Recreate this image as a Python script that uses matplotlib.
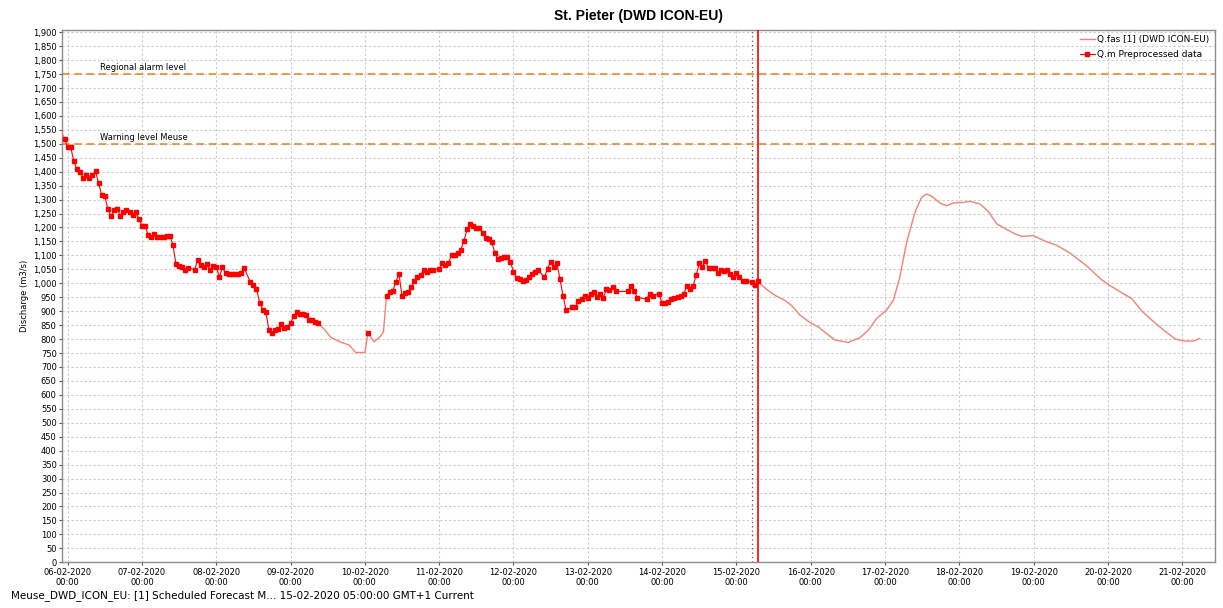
import matplotlib
matplotlib.use("Agg")
import matplotlib.pyplot as plt
import numpy as np
from matplotlib.ticker import FuncFormatter, MultipleLocator

nan = np.nan

# hours since 06-02-2020 00:00
obs_hours = [-1, 0, 1, 2, 3, 4, 5, 6, 7, 8, 9, 10, 11, 12, 13, 14, 15, 16, 17, 18, 19, 20,
             21, 22, 23, 24, 25, 26, 27, 28, 29, 30, 31, 32, 33, 34, 35, 36, 37, 38, 39, 41,
             42, 43, 44, 45, 46, 47, 48, 49, 50, 51, 52, 53, 54, 55, 56, 57, 59, 60, 61, 62,
             63, 64, 65, 66, 67, 68, 69, 70, 71, 72, 73, 74, 75, 76, 77, 78, 79, 80, 81,
             89, 97, 100,
             103, 104, 105, 106, 107, 108, 109, 110, 111, 112, 113, 114, 115, 116, 117, 118,
             120, 121, 122, 123, 124, 125, 126, 127, 128, 129, 130, 131, 132, 133, 134, 135,
             136, 137, 138, 139, 140, 141, 142, 143, 144, 145, 146, 147, 148, 149, 150, 151,
             152, 154, 155, 156, 157, 158, 159, 160, 161, 163, 164, 165, 166, 167, 168, 169,
             170, 171, 172, 173, 174, 175, 176, 177, 181, 182, 183, 184, 187, 188, 189, 191,
             192, 193, 194, 195, 196, 197, 198, 199, 200, 201, 202, 203, 204, 205, 206, 207,
             208, 209, 210, 211, 212, 213, 214, 215, 216, 217, 218, 219, 221, 222, 223]
obs_values = [1516, 1489, 1487, 1438, 1408, 1398, 1379, 1389, 1379, 1389, 1401, 1360, 1315,
              1312, 1265, 1241, 1262, 1267, 1241, 1255, 1262, 1257, 1243, 1257, 1229, 1207,
              1205, 1174, 1166, 1176, 1166, 1166, 1166, 1169, 1171, 1138, 1068, 1061, 1057,
              1049, 1054, 1049, 1083, 1064, 1059, 1068, 1047, 1061, 1059, 1023, 1057, 1037,
              1035, 1033, 1033, 1033, 1037, 1054, 1005, 993, 981, 930, 906, 897, 834, 822,
              832, 837, 853, 841, 844, 858, 882, 896, 889, 889, 885, 870, 868, 860, 856,
              nan, 822, nan,
              956, 968, 973, 1004, 1035, 954, 966, 969, 987, 1009, 1023, 1028, 1047, 1040,
              1049, 1049, 1053, 1073, 1065, 1073, 1101, 1101, 1107, 1121, 1152, 1193, 1212,
              1207, 1198, 1198, 1181, 1164, 1159, 1147, 1109, 1087, 1090, 1093, 1093, 1076,
              1042, 1018, 1016, 1009, 1011, 1023, 1033, 1042, 1047, 1021, 1053, 1077, 1059,
              1073, 1017, 956, 904, 915, 915, 937, 944, 956, 947, 963, 970, 952, 961, 949,
              978, 975, 987, 971, 971, 990, 971, 949, 944, 963, 956, 963, 928, 928, 933, 944,
              949, 951, 954, 963, 990, 978, 990, 1029, 1071, 1059, 1080, 1054, 1054, 1054,
              1037, 1047, 1044, 1046, 1035, 1023, 1037, 1021, 1009, 1009, 1004, 994, 1008]

fas_hours = [-1.7, -1, nan,
             81, 83, 85, 88, 91, 93, 96, 97, 99, 101, 102, 103, nan,
             223, 225.7, 228.4, 231.6, 233.8, 236.5, 239.7, 242.4, 245.1, 247.8, 252.1,
             255.9, 258.6, 261.3, 264.5, 266.7, 268.8, 271, 273.7, 275.8, 277.4, 279.1,
             281.8, 283.9, 286.1, 289.3, 291.5, 294.7, 297.4, 300.1, 303.3, 306, 308.2,
             311.9, 315.7, 319.5, 323.8, 329.2, 333.5, 336.2, 340, 343.7, 347, 350.8, 354,
             357.8, 360.5, 363.7, 365.6]
fas_values = [1538, 1516, nan,
              856, 834, 806, 790, 778, 752, 752, 822, 790, 810, 826, 956, nan,
              1005, 979, 957, 939, 921, 886, 860, 844, 820, 797, 788,
              805, 832, 874, 904, 939, 1023, 1148, 1255, 1308, 1320, 1312,
              1287, 1278, 1288, 1290, 1294, 1284, 1257, 1213, 1193, 1177, 1168,
              1171, 1151, 1136, 1108, 1062, 1017, 995, 969, 945, 900, 862, 832,
              800, 793, 793, 802]

days = ["06-02-2020", "07-02-2020", "08-02-2020", "09-02-2020", "10-02-2020", "11-02-2020",
        "12-02-2020", "13-02-2020", "14-02-2020", "15-02-2020", "16-02-2020", "17-02-2020",
        "18-02-2020", "19-02-2020", "20-02-2020", "21-02-2020"]
levels = [1750, 1500]
level_names = ["Regional alarm level", "Warning level Meuse"]
forecast_t0 = 221   # 15-02 05:00
now_t = 223         # 15-02 07:00

font = "DejaVu Sans"
fig = plt.figure(figsize=(12.23, 6.08), dpi=100)
ax = fig.add_axes([0.0509, 0.0752, 0.9426, 0.8755])

ax.plot(fas_hours, fas_values, color="#fa8072", lw=1.0,
        label="Q.fas [1] (DWD ICON-EU)", zorder=3)
ax.plot(obs_hours, obs_values, color="red", lw=0.8, marker="s", ms=3.2,
        label="Q.m Preprocessed data", zorder=4)

for lv, name in zip(levels, level_names):
    ax.axhline(lv, color="#f08010", lw=1.1, ls=(0, (5, 3)), zorder=2)
    ax.text(10.5, lv + 8, name, fontsize=6, fontname=font, va="bottom", ha="left")

ax.axvline(forecast_t0, color="#555555", lw=0.9, ls=(0, (1, 2.5)), zorder=2)
ax.axvline(now_t, color="red", lw=1.2, zorder=5)

ax.set_xlim(-1.74, 370.6)
ax.set_ylim(0, 1908)
ax.yaxis.set_major_locator(MultipleLocator(50))
ax.yaxis.set_major_formatter(FuncFormatter(lambda v, p: f"{v:,.0f}"))
ax.set_xticks([24 * i for i in range(len(days))])
ax.set_xticklabels([d + "\n00:00" for d in days])
ax.tick_params(labelsize=6, length=2.5, width=0.8, color="#555555", pad=1.5)
for lab in ax.get_xticklabels() + ax.get_yticklabels():
    lab.set_fontname(font)

ax.grid(True, color="#cccccc", lw=0.8, ls=(0, (2, 2)))
for s in ax.spines.values():
    s.set_color("#8c8c8c")
    s.set_linewidth(1.0)

ax.set_ylabel("Discharge (m3/s)", fontsize=6, fontname=font, labelpad=3)
ax.set_title("St. Pieter (DWD ICON-EU)", fontsize=10, fontweight="bold",
             fontname="Liberation Sans", pad=7)

lg = ax.legend(loc="upper right", frameon=False, fontsize=6.5, handlelength=1.6,
               borderaxespad=0.2, labelspacing=0.6, handletextpad=0.3)
plt.setp(lg.texts, family=font)

fig.text(0.009, 0.012, "Meuse_DWD_ICON_EU: [1] Scheduled Forecast M... 15-02-2020 05:00:00 GMT+1 Current",
         fontsize=7.5, fontname=font, ha="left", va="bottom")

fig.savefig("out.png", dpi=100)
